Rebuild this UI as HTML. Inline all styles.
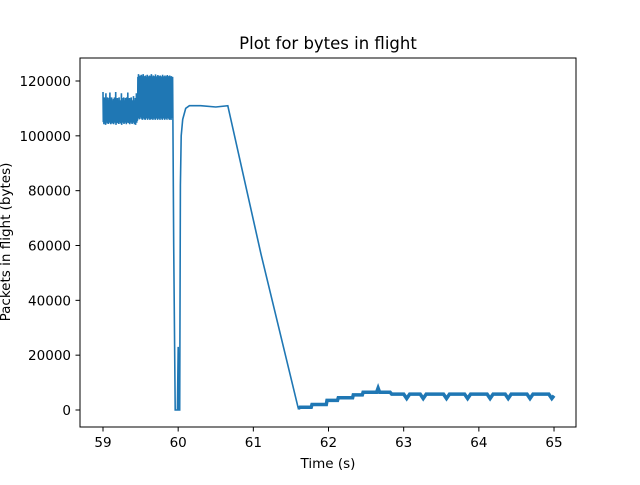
<!DOCTYPE html>
<html><head><meta charset="utf-8"><style>
body{margin:0;background:#fff;font-family:"Liberation Sans","DejaVu Sans",sans-serif}
svg text{font-family:"DejaVu Sans","Liberation Sans",sans-serif;fill:#000}
</style></head><body>
<svg id="c" width="640" height="480">
<rect width="640" height="480" fill="#fff"/>
<text x="328" y="49" font-size="16.5" text-anchor="middle">Plot for bytes in flight</text>
<g id="plot"></g>
<rect x="80" y="58" width="496" height="369" fill="none" stroke="#000" stroke-width="1"/>
<g id="axes"></g>
<text x="328" y="468" font-size="13.5" text-anchor="middle">Time (s)</text>
<text transform="translate(10,242) rotate(-90)" font-size="13.5" text-anchor="middle">Packets in flight (bytes)</text>
</svg>
<script>
const xTicks=[59,60,61,62,63,64,65];
const yTicks=[0,20000,40000,60000,80000,100000,120000];
const noiseAHi=[116000,113000,114000,112000,113500,115500,113000,112500,114000,113000,112000,113800,115800,113000,112500,114000,113000,112800,113500,112000,114000,113000,116000,113000,112500,113800,112000,113000,114000,113000,112500,113000,115500,113800,112000,113000,114000,112500,113000,113800,112000,114000,113000,115800,113000,112500,113800,112000,113000,114000,113000,112500,113000,114500,113000,112000,113800,113000,115500,114000];
const noiseALo=[105000,104200,105500,104800,104000,105200,105800,104500,105000,104300,105500,104800,105000,104200,105600,104800,104500,105000,104200,105300,104800,105500,104000,105000,104600,105200,104800,104300,105500,105000,104500,105200,104000,105500,104800,105000,104300,105600,104800,105000,104200,105300,104800,105500,104600,105000,104200,105300,104800,105000,104300,105500,104800,105000,104200,105300,104000,105000,104800,105500];
const noiseBHi=[121500,122500,121800,121000,122000,121500,122300,121000,121800,122500,121200,121800,121000,122000,121500,121000,122300,121800,121000,121500,122000,121200,121800,122500,121000,121600,122000,121300,121800,121000,122400,121500,121000,121800,122200,121300,121800,121000,122000,121500,121000,121800,122300,121200,121700,121000,122000,121500,121000,121800,122200,121300,121800,121000,122000,121500,121200,121800,121000,121500];
const noiseBLo=[107000,106500,108500,106000,107500,106800,106200,107000,105800,106500,107200,106000,106800,105800,106500,107000,106200,105800,106800,106300,107000,105800,106500,106000,107200,106300,105800,106800,106200,107000,105800,106500,106300,107000,105800,106500,106200,106800,105800,106500,107000,106200,105800,106600,106300,107000,105800,106500,106200,106800,105900,106500,107000,106200,105800,106600,106300,105800,106500,107000];
const tailT=[59.93,59.94,59.96,59.99,60.0,60.01,60.02,60.03,60.04,60.06,60.1,60.15,60.3,60.5,60.66,61.1,61.59,61.6,61.62,61.77,61.78,61.97,61.98,62.12,62.13,62.32,62.33,62.45,62.46,62.64,62.66,62.68,62.82,62.84,63.0,63.04,63.08,63.22,63.26,63.3,63.53,63.57,63.61,63.81,63.85,63.89,64.11,64.15,64.19,64.35,64.39,64.43,64.64,64.68,64.72,64.93,64.97,65.0];
const tailV=[106000,60000,0,0,23000,0,0,82000,100000,106000,110000,111000,111000,110500,111000,57000,1500,500,1000,1000,2000,2000,3500,3500,4500,4500,5500,5500,6500,6500,8000,6500,6500,5800,5800,4200,5800,5800,4200,5800,5800,4200,5800,5800,4200,5800,5800,4200,5800,5800,4200,5800,5800,4200,5800,5800,4200,5200];
const X=v=>103+(v-59)*75.17, Y=v=>410-v*329/120000;
const ns="http://www.w3.org/2000/svg";
let pts=[];
noiseAHi.forEach((v,i)=>{const t=59+i*0.46/noiseAHi.length;pts.push([t,v]);pts.push([t+0.0038,noiseALo[i]]);});
noiseBHi.forEach((v,i)=>{const t=59.46+i*0.47/noiseBHi.length;pts.push([t,noiseBLo[i]]);pts.push([t+0.0039,v]);});
const p=document.createElementNS(ns,"path");
p.setAttribute("d",pts.map((q,i)=>(i?"L":"M")+X(q[0]).toFixed(1)+","+Y(q[1]).toFixed(1)).join("")+tailT.map((t,i)=>"L"+X(t).toFixed(1)+","+Y(tailV[i]).toFixed(1)).join(""));
p.setAttribute("fill","none");p.setAttribute("stroke","#1f77b4");p.setAttribute("stroke-width","1.6");


document.getElementById("plot").appendChild(p);
const p2=document.createElementNS(ns,"path");
const k0=tailT.indexOf(61.6);
p2.setAttribute("d",tailT.slice(k0).map((t,i)=>(i?"L":"M")+X(t).toFixed(1)+","+Y(tailV[k0+i]).toFixed(1)).join(""));
p2.setAttribute("fill","none");p2.setAttribute("stroke","#1f77b4");p2.setAttribute("stroke-width","3.5");


document.getElementById("plot").appendChild(p2);
const ax=document.getElementById("axes");
xTicks.forEach(t=>{const x=X(t);
 const l=document.createElementNS(ns,"line");l.setAttribute("x1",x);l.setAttribute("x2",x);l.setAttribute("y1",427);l.setAttribute("y2",431.5);l.setAttribute("stroke","#000");
 
 
 ax.appendChild(l);
 const s=document.createElementNS(ns,"text");s.setAttribute("x",x);s.setAttribute("y",447);s.setAttribute("font-size","13.5");s.setAttribute("text-anchor","middle");s.textContent=t;
 
 
 ax.appendChild(s);});
yTicks.forEach(t=>{const y=Y(t);
 const l=document.createElementNS(ns,"line");l.setAttribute("x1",75.5);l.setAttribute("x2",80);l.setAttribute("y1",y);l.setAttribute("y2",y);l.setAttribute("stroke","#000");
 
 
 ax.appendChild(l);
 const s=document.createElementNS(ns,"text");s.setAttribute("x",71);s.setAttribute("y",y+5);s.setAttribute("font-size","13.5");s.setAttribute("text-anchor","end");s.textContent=t;
 
 
 ax.appendChild(s);});
</script>
</body></html>
